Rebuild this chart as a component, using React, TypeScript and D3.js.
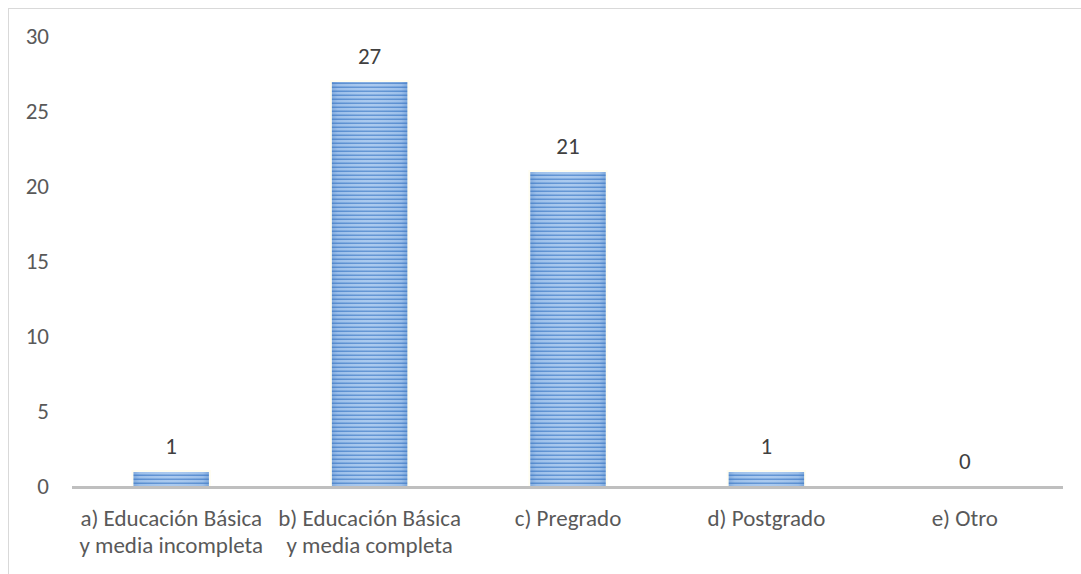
import React from "react";
import * as d3 from "d3";

const categories = [
    ["a) Educación Básica", "y media incompleta"],
    ["b) Educación Básica", "y media completa"],
    ["c) Pregrado"],
    ["d) Postgrado"],
    ["e) Otro"],
];
const values = [1, 27, 21, 1, 0];
const yTicks = [0, 5, 10, 15, 20, 25, 30];

const W = 1081;
const H = 574;
const FONT = "Carlito, 'Open Sans', sans-serif";
const FS = 23;

export default function App() {
    const x = d3.scaleBand<number>()
        .domain(d3.range(values.length))
        .range([72, 1064])
        .paddingInner(0.62)
        .paddingOuter(0.31);
    const y = d3.scaleLinear().domain([0, 30]).range([487, 37]);

    return (
        <svg width={W} height={H} style={{ position: "absolute", left: 0, top: 0, background: "#fff" }}>
            <defs>
                <pattern id="stripes" width="6" height="4" patternUnits="userSpaceOnUse">
                    <rect width="6" height="4" fill="#a6c7ee" />
                    <rect y="2.5" width="6" height="1.5" fill="#5d91d2" />
                </pattern>
                <linearGradient id="shade" x1="0" x2="1" y1="0" y2="0">
                    <stop offset="0" stopColor="#3f78c0" stopOpacity="0.35" />
                    <stop offset="0.08" stopColor="#3f78c0" stopOpacity="0.1" />
                    <stop offset="0.5" stopColor="#ffffff" stopOpacity="0.05" />
                    <stop offset="0.92" stopColor="#3f78c0" stopOpacity="0.1" />
                    <stop offset="1" stopColor="#3f78c0" stopOpacity="0.4" />
                </linearGradient>
            </defs>

            <line x1={8.5} x2={8.5} y1={8} y2={H} stroke="#d9d9d9" />
            <line x1={8} x2={W} y1={8.5} y2={8.5} stroke="#d9d9d9" />

            {yTicks.map(t => (
                <text key={t} x={49} y={y(t) + 7} textAnchor="end" fontFamily={FONT} fontSize={FS} fill="#595959">{t}</text>
            ))}

            {values.map((v, i) => {
                const bx = x(i) ?? 0;
                const top = y(v);
                const h = y(0) - top;
                return (
                    <g key={i}>
                        {h > 0 && <rect x={bx - 2} y={top - 2} width={x.bandwidth() + 4} height={h + 4} fill="#fffbe8" opacity={0.6} />}
                        {h > 0 && <rect x={bx} y={top} width={x.bandwidth()} height={h} fill="url(#stripes)" />}
                        {h > 0 && <rect x={bx} y={top} width={x.bandwidth()} height={h} fill="url(#shade)" />}
                        <text x={bx + x.bandwidth() / 2} y={top - 18.5} textAnchor="middle" fontFamily={FONT} fontSize={FS} fill="#404040">{v}</text>
                    </g>
                );
            })}

            <line x1={72} x2={1063} y1={y(0) + 0.5} y2={y(0) + 0.5} stroke="#bfbfbf" strokeWidth={3} />

            {categories.map((lines, i) => {
                const cx = (x(i) ?? 0) + x.bandwidth() / 2;
                return (
                    <text key={i} x={cx} textAnchor="middle" fontFamily={FONT} fontSize={FS} fill="#595959">
                        {lines.map((l, j) => (
                            <tspan key={j} x={cx} y={526 + j * 27}>{l}</tspan>
                        ))}
                    </text>
                );
            })}
        </svg>
    );
}
